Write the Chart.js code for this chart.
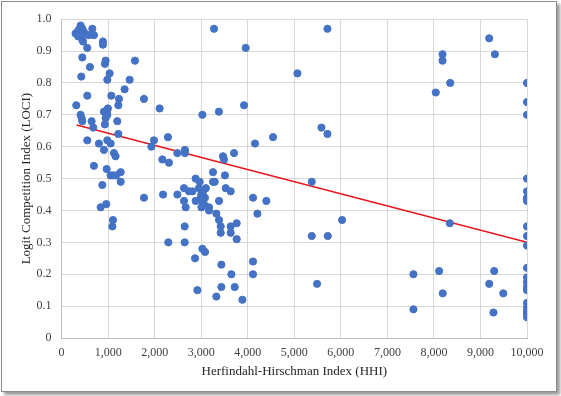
<!DOCTYPE html>
<html>
<head>
<meta charset="utf-8">
<script src="https://cdn.jsdelivr.net/npm/chart.js@4.4.1/dist/chart.umd.min.js"></script>
<style>
  html, body { margin: 0; padding: 0; background: #fff; }
  #frame {
    position: absolute; left: 1px; top: 1px;
    width: 554px; height: 389px;
    border: 1px solid #8c8c8c;
    box-shadow: 3px 3px 3px #9a9a9a;
    background: #fff;
  }
</style>
</head>
<body>
<div id="frame"><canvas id="chart"></canvas></div>
<script>
// HHI (x) and LOCI (y)
const hhiLow = [300, 340, 357, 372, 408, 445, 445, 460, 480, 420, 587, 660, 695,
  888, 888, 550, 445, 946, 930, 1576, 609, 1032, 423, 982, 1462, 1354, 552, 1068,
  1232, 1770, 315, 1219, 995, 2107, 910, 970, 982, 408, 430, 946, 445, 645, 1197,
  680, 930, 1219, 552, 982, 802, 1054, 910, 1125, 1160, 1928, 1985, 2285, 2165,
  2307, 2487, 2650, 2650, 695, 968, 1054, 1110, 1170, 1270, 1270, 875, 1770, 840,
  960, 1104, 1090];
const lociLow = [0.955, 0.96, 0.946, 0.967, 0.98, 0.97, 0.936, 0.93, 0.96, 0.95, 0.95, 0.97, 0.95,
  0.93, 0.92, 0.91, 0.88, 0.87, 0.86, 0.87, 0.85, 0.83, 0.82, 0.81, 0.81, 0.78, 0.76, 0.76,
  0.75, 0.75, 0.73, 0.73, 0.72, 0.72, 0.71, 0.71, 0.70, 0.70, 0.69, 0.69, 0.68, 0.68, 0.68,
  0.66, 0.67, 0.64, 0.62, 0.62, 0.61, 0.61, 0.59, 0.58, 0.57, 0.60, 0.62, 0.63, 0.56,
  0.55, 0.58, 0.59, 0.58, 0.54, 0.53, 0.51, 0.51, 0.51, 0.52, 0.49, 0.48, 0.44, 0.41,
  0.42, 0.37, 0.35];

const hhiMid = [3025, 3380, 3275, 5712, 3956, 5067, 3920, 5583, 5712, 4156, 4543, 3468,
  3490, 3705, 3253, 3510, 2880, 2967, 3253, 3290, 5375, 2180, 2487, 2630, 2737, 2810,
  2630, 2666, 2880, 2950, 3000, 3040, 3080, 3020, 3100, 3060, 2990, 3004, 3167, 3167,
  3383, 3526, 3633, 4113, 4400, 4207, 3325, 3383, 3419, 3419, 3633, 3633, 3762, 3762,
  2645, 2293, 2645, 3025, 3082, 2867, 3433, 3648, 4113, 4113, 2917, 3433, 3720, 3325,
  3885, 6027, 5375, 5719, 5489];
const lociMid = [0.70, 0.71, 0.97, 0.97, 0.91, 0.83, 0.73, 0.66, 0.64, 0.61, 0.63, 0.57,
  0.56, 0.58, 0.52, 0.51, 0.50, 0.49, 0.49, 0.49, 0.49, 0.45, 0.45, 0.47, 0.46, 0.46,
  0.43, 0.41, 0.43, 0.47, 0.45, 0.46, 0.44, 0.43, 0.47, 0.42, 0.44, 0.41, 0.41, 0.40,
  0.43, 0.47, 0.46, 0.44, 0.43, 0.39, 0.39, 0.37, 0.35, 0.33, 0.35, 0.33, 0.36, 0.31,
  0.35, 0.30, 0.30, 0.28, 0.27, 0.25, 0.23, 0.20, 0.24, 0.20, 0.15, 0.16, 0.16, 0.13,
  0.12, 0.37, 0.32, 0.32, 0.17];

const hhiHigh = [9188, 8185, 8185, 9310, 8350, 8040, 8342, 7560, 7560, 8112, 8190, 9295,
  9188, 9490, 9280];
const lociHigh = [0.94, 0.89, 0.87, 0.89, 0.80, 0.77, 0.36, 0.20, 0.09, 0.21, 0.14, 0.21,
  0.17, 0.14, 0.08];

// monopoly markets, HHI = 10,000
const lociMonopoly = [0.80, 0.74, 0.70, 0.50, 0.46, 0.44, 0.435, 0.43, 0.35, 0.32, 0.29,
  0.22, 0.19, 0.175, 0.16, 0.15, 0.11, 0.095, 0.085, 0.075, 0.065];

// linear trend line end points
const trendHhi = [322, 10000];
const trendLoci = [0.668, 0.300];

const xTicks = [0, 1000, 2000, 3000, 4000, 5000, 6000, 7000, 8000, 9000, 10000];

function pairs(xs, ys) {
  return xs.map((x, i) => ({ x: x, y: ys[i] }));
}

const points = []
  .concat(pairs(hhiLow, lociLow))
  .concat(pairs(hhiMid, lociMid))
  .concat(pairs(hhiHigh, lociHigh))
  .concat(lociMonopoly.map(y => ({ x: 10000, y: y })));

const serif = '"Times New Roman", "Liberation Serif", serif';
const gridColor = '#d9d9d9';

new Chart(document.getElementById('chart'), {
  type: 'scatter',
  data: {
    datasets: [
      {
        label: 'LOCI',
        data: points,
        backgroundColor: '#4472c4',
        borderColor: '#4472c4',
        pointRadius: 3.6,
        pointHoverRadius: 3.6
      },
      {
        label: 'Trend',
        data: pairs(trendHhi, trendLoci),
        showLine: true,
        borderColor: '#e8141a',
        borderWidth: 1.5,
        pointRadius: 0,
        fill: false
      }
    ]
  },
  options: {
    responsive: true,
    maintainAspectRatio: false,
    animation: false,
    layout: { padding: { left: 6, right: 29, top: 10, bottom: 8 } },
    plugins: {
      legend: { display: false },
      tooltip: { enabled: false }
    },
    scales: {
      x: {
        type: 'linear',
        min: 0,
        max: 10000,
        afterBuildTicks: axis => { axis.ticks = xTicks.map(v => ({ value: v })); },
        grid: { color: gridColor, drawTicks: false },
        border: { color: '#bfbfbf' },
        ticks: {
          padding: 8,
          color: '#404040',
          font: { family: serif, size: 12 },
          maxRotation: 0,
          callback: v => v.toLocaleString('en-US')
        },
        title: {
          display: true,
          text: 'Herfindahl-Hirschman Index (HHI)',
          color: '#262626',
          font: { family: serif, size: 13 },
          padding: { top: -5, bottom: 4 }
        }
      },
      y: {
        min: 0,
        max: 1,
        ticks: {
          stepSize: 0.1,
          padding: 10,
          color: '#404040',
          font: { family: serif, size: 12 }
        },
        grid: { color: gridColor, drawTicks: false },
        border: { color: '#bfbfbf' },
        title: {
          display: true,
          text: 'Logit Competition Index (LOCI)',
          color: '#262626',
          font: { family: serif, size: 13 },
          padding: { top: 11, bottom: -8 }
        }
      }
    }
  }
});
</script>
</body>
</html>
